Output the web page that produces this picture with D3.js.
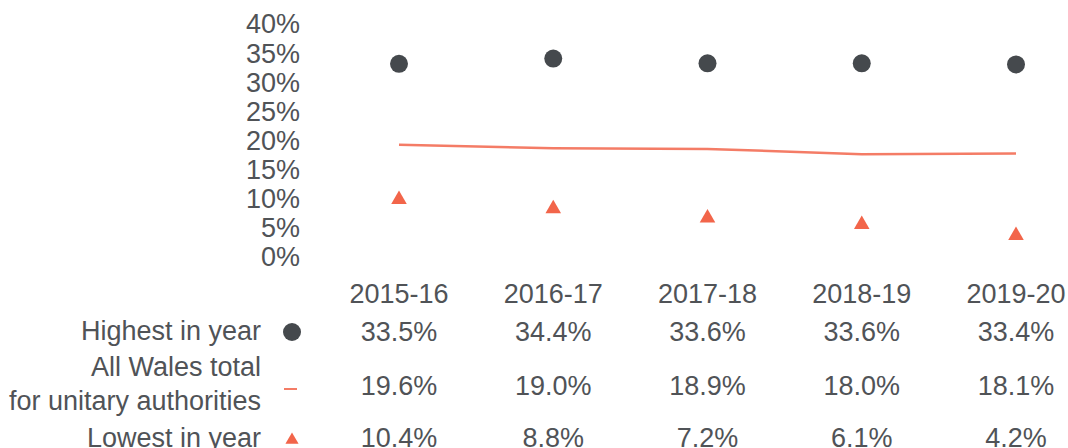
<!DOCTYPE html>
<html>
<head>
<meta charset="utf-8">
<script src="https://cdn.jsdelivr.net/npm/d3@7"></script>
<style>
  body { margin: 0; background: #fff; }
  svg text { font-family: "Liberation Sans", Arial, sans-serif; fill: #505357; }
</style>
</head>
<body>
<script>
const years = ['2015-16', '2016-17', '2017-18', '2018-19', '2019-20']
const highest = [33.5, 34.4, 33.6, 33.6, 33.4]
const walesTotal = [19.6, 19.0, 18.9, 18.0, 18.1]
const lowest = [10.4, 8.8, 7.2, 6.1, 4.2]
const yTicks = [0, 5, 10, 15, 20, 25, 30, 35, 40]

const width = 1068
const height = 448
const fontSize = 27

const svg = d3.select('body')
  .append('svg')
  .attr('width', width)
  .attr('height', height)
  .style('font-size', fontSize + 'px')

const x = d3.scalePoint()
  .domain(years)
  .range([399, 1016])

const y = d3.scaleLinear()
  .domain([0, 40])
  .range([259, 26])

// y axis labels (no line, no ticks)
svg.append('g')
  .selectAll('text')
  .data(yTicks)
  .enter()
  .append('text')
  .attr('x', 300)
  .attr('y', d => y(d) - 2)
  .attr('dy', '0.35em')
  .attr('text-anchor', 'end')
  .text(d => d + '%')

// all wales line
const line = d3.line()
  .x((d, i) => x(years[i]))
  .y(d => y(d))

svg.append('path')
  .attr('d', line(walesTotal))
  .attr('fill', 'none')
  .attr('stroke', '#f47c66')
  .attr('stroke-width', 2.5)

// highest dots
svg.append('g')
  .selectAll('circle')
  .data(highest)
  .enter()
  .append('circle')
  .attr('cx', (d, i) => x(years[i]))
  .attr('cy', d => y(d))
  .attr('r', 9)
  .attr('fill', '#45494d')

// lowest triangles
const tri = d3.symbol().type(d3.symbolTriangle).size(105)
svg.append('g')
  .selectAll('path')
  .data(lowest)
  .enter()
  .append('path')
  .attr('d', tri)
  .attr('transform', (d, i) => `translate(${x(years[i])},${y(d) + 1})`)
  .attr('fill', '#f2654a')

// data table
const table = svg.append('g')

table.selectAll('.year')
  .data(years)
  .enter()
  .append('text')
  .attr('class', 'year')
  .attr('x', d => x(d))
  .attr('y', 294)
  .attr('dy', '0.35em')
  .attr('text-anchor', 'middle')
  .text(d => d)

const rows = [
  { values: highest, y: 332 },
  { values: walesTotal, y: 386 },
  { values: lowest, y: 438 }
]

rows.forEach(r => {
  table.append('g')
    .selectAll('text')
    .data(r.values)
    .enter()
    .append('text')
    .attr('x', (d, i) => x(years[i]))
    .attr('y', r.y)
    .attr('dy', '0.35em')
    .attr('text-anchor', 'middle')
    .text(d => d.toFixed(1) + '%')
})

// row headers
const headers = [
  { text: 'Highest in year', y: 331 },
  { text: 'All Wales total', y: 367 },
  { text: 'for unitary authorities', y: 401 },
  { text: 'Lowest in year', y: 438 }
]

table.append('g')
  .selectAll('text')
  .data(headers)
  .enter()
  .append('text')
  .attr('x', 261)
  .attr('y', d => d.y)
  .attr('dy', '0.35em')
  .attr('text-anchor', 'end')
  .text(d => d.text)

// legend keys
table.append('circle')
  .attr('cx', 292)
  .attr('cy', 332)
  .attr('r', 9)
  .attr('fill', '#45494d')

table.append('line')
  .attr('x1', 284)
  .attr('x2', 297)
  .attr('y1', 389)
  .attr('y2', 389)
  .attr('stroke', '#f47c66')
  .attr('stroke-width', 2)

table.append('path')
  .attr('d', d3.symbol().type(d3.symbolTriangle).size(75)())
  .attr('transform', 'translate(292,440)')
  .attr('fill', '#f2654a')
</script>
</body>
</html>
